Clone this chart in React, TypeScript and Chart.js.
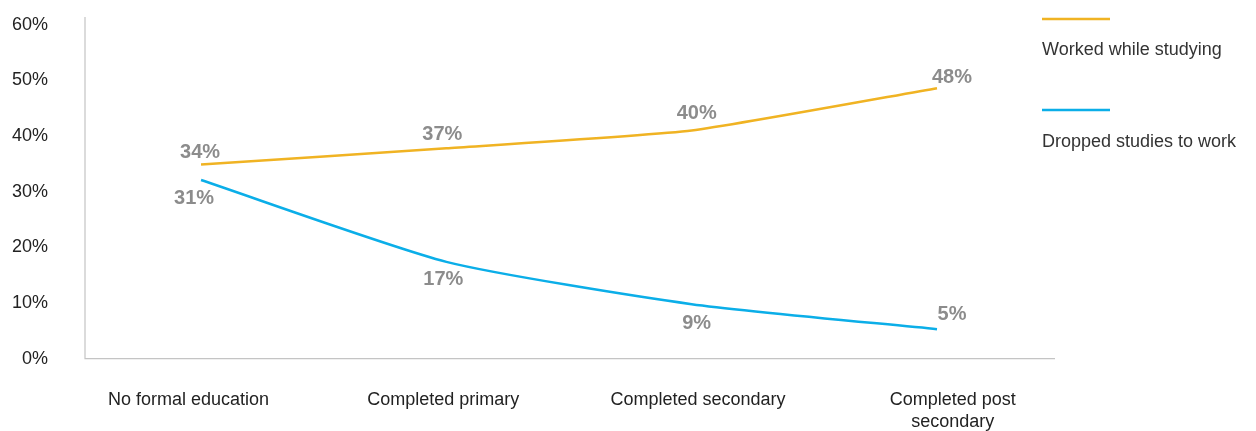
import React, { useEffect, useRef } from "react";
import { Chart, registerables } from "chart.js";

Chart.register(...registerables);

const categories: (string | string[])[] = [
  "No formal education",
  "Completed primary",
  "Completed secondary",
  ["Completed post", "secondary"],
];
const seriesNames = ["Worked while studying", "Dropped studies to work"];
// plotted positions
const workedValues = [34.9, 37.8, 41.0, 48.6];
const droppedValues = [32.1, 17.4, 9.8, 5.3];
// printed data labels
const workedLabels = [34, 37, 40, 48];
const droppedLabels = [31, 17, 9, 5];
const yTicks = [0, 10, 20, 30, 40, 50, 60];

const ORANGE = "#F0B323";
const BLUE = "#0BAEE8";
const FONT = "'Liberation Sans', Arial, sans-serif";

export default function App() {
  const ref = useRef<HTMLCanvasElement>(null);
  useEffect(() => {
    document.documentElement.style.overflow = "hidden";
    if (!ref.current) return;
    const labelSets = [workedLabels, droppedLabels];
    const labelOffsets = [
      { dx: [-1, -4, 5, 15], dy: [-12, -14, -17, -11] },
      { dx: [-7, -3, 5, 15], dy: [18, 18, 19, -15] },
    ];
    const plugin = {
      id: "custom",
      beforeDatasetsDraw(chart: any) {
        const { ctx, chartArea } = chart;
        ctx.save();
        ctx.strokeStyle = "#C4C4C4";
        ctx.lineWidth = 1.2;
        ctx.beginPath();
        ctx.moveTo(chartArea.left, chartArea.top);
        ctx.lineTo(chartArea.left, chartArea.bottom);
        ctx.lineTo(chartArea.right, chartArea.bottom);
        ctx.stroke();
        ctx.restore();
      },
      afterDatasetsDraw(chart: any) {
        const { ctx } = chart;
        ctx.save();
        ctx.font = `bold 20px ${FONT}`;
        ctx.fillStyle = "#8C8C8C";
        ctx.textAlign = "center";
        ctx.textBaseline = "middle";
        chart.data.datasets.forEach((ds: any, i: number) => {
          const meta = chart.getDatasetMeta(i);
          meta.data.forEach((pt: any, j: number) => {
            const o = labelOffsets[i];
            ctx.fillText(labelSets[i][j] + "%", pt.x + o.dx[j], pt.y + o.dy[j]);
          });
        });
        ctx.restore();
      },
      afterDraw(chart: any) {
        const { ctx, chartArea } = chart;
        ctx.save();
        const x0 = chartArea.right - 13;
        const items = [
          { color: ORANGE, lineY: 11, textY: 47, name: seriesNames[0] },
          { color: BLUE, lineY: 102, textY: 139, name: seriesNames[1] },
        ];
        items.forEach((it) => {
          ctx.strokeStyle = it.color;
          ctx.lineWidth = 2.5;
          ctx.beginPath();
          ctx.moveTo(x0, it.lineY);
          ctx.lineTo(x0 + 68, it.lineY);
          ctx.stroke();
          ctx.fillStyle = "#333333";
          ctx.font = `18px ${FONT}`;
          ctx.textAlign = "left";
          ctx.textBaseline = "alphabetic";
          ctx.fillText(it.name, x0, it.textY);
        });
        ctx.restore();
      },
    };

    const chart = new Chart(ref.current, {
      type: "line",
      data: {
        datasets: [
          {
            label: seriesNames[0],
            data: workedValues.map((v, i) => ({ x: i, y: v })),
            borderColor: ORANGE,
            backgroundColor: ORANGE,
            borderWidth: 2.5,
            pointRadius: 0,
            tension: 0.15,
          },
          {
            label: seriesNames[1],
            data: droppedValues.map((v, i) => ({ x: i, y: v })),
            borderColor: BLUE,
            backgroundColor: BLUE,
            borderWidth: 2.5,
            pointRadius: 0,
            tension: 0.2,
          },
        ],
      },
      options: {
        animation: false,
        responsive: true,
        maintainAspectRatio: false,
        layout: { padding: { top: 9, right: 193, left: 0, bottom: 0 } },
        plugins: { legend: { display: false }, tooltip: { enabled: false } },
        scales: {
          x: {
            type: "linear",
            display: false,
            min: -0.473,
            max: 3.481,
          },
          x2: {
            type: "linear",
            axis: "x",
            position: "bottom",
            min: -0.406,
            max: 3.401,
            grid: { display: false, drawTicks: false },
            border: { display: false },
            afterBuildTicks: (s: any) => {
              s.ticks = categories.map((_, i) => ({ value: i }));
            },
            afterFit: (s: any) => {
              s.height = 72.3;
              s.paddingLeft = 0;
              s.paddingRight = 0;
            },
            ticks: {
              padding: 31,
              maxRotation: 0,
              autoSkip: false,
              color: "#222222",
              font: { family: FONT, size: 18 },
              callback: (v: any) => categories[v as number] ?? "",
            },
          },
          y: {
            type: "linear",
            min: 0,
            max: 61.4,
            grid: { display: false, drawTicks: false },
            border: { display: false },
            afterBuildTicks: (s: any) => {
              s.ticks = yTicks.map((v) => ({ value: v }));
            },
            afterFit: (s: any) => {
              s.width = 77;
              s.paddingTop = 0;
              s.paddingBottom = 0;
            },
            ticks: {
              padding: 37,
              color: "#222222",
              font: { family: FONT, size: 18 },
              callback: (v: any) => v + "%",
            },
          },
        },
      },
      plugins: [plugin],
    });
    return () => chart.destroy();
  }, []);

  return (
    <div style={{ position: "relative", width: 1240, height: 423 }}>
      <canvas ref={ref} />
    </div>
  );
}
